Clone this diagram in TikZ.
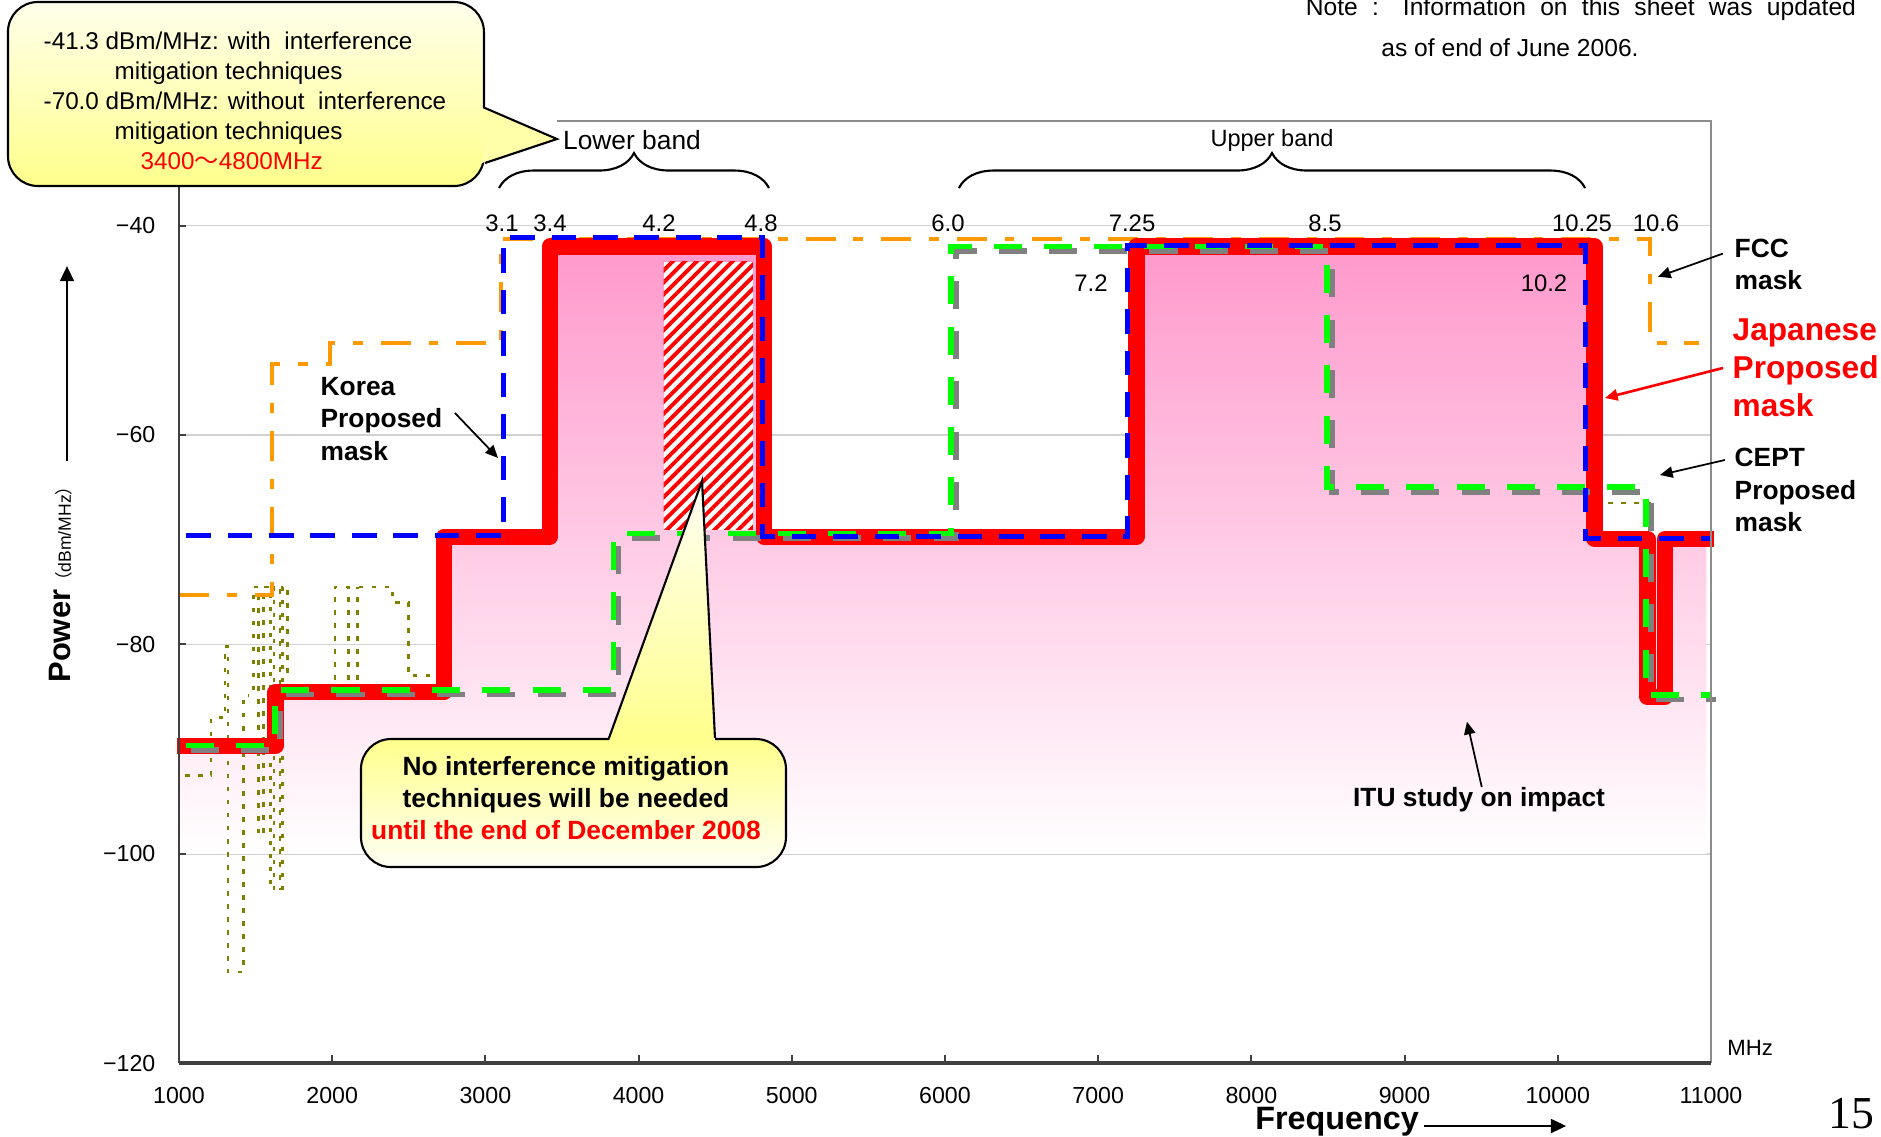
\documentclass[tikz,border=0pt]{standalone}
\usepackage{fontspec}
\setmainfont{Liberation Sans}
\newfontfamily\pagefont{Liberation Serif}
\newfontfamily\cjkfont{Noto Sans CJK JP}
\usetikzlibrary{arrows.meta,shapes,decorations.pathreplacing,patterns.meta}

\definecolor{fccorange}{RGB}{255,153,0}
\definecolor{ceptgreen}{RGB}{0,255,0}
\definecolor{koreablue}{RGB}{0,0,255}
\definecolor{dotolive}{RGB}{128,128,0}
\definecolor{itupink}{RGB}{255,153,204}
\definecolor{calloutyellow}{RGB}{255,255,140}

\tikzset{
  jpmask/.style={draw=red,line width=4.6pt,line join=round},
  koreamask/.style={draw=koreablue,line width=1.4pt,dash pattern=on 7pt off 4.8pt},
  ceptmask/.style={line width=1.6pt,dash pattern=on 8pt off 6.3pt},
  fccmask/.style={draw=fccorange,line width=1.15pt,dash pattern=on 8.5pt off 5.1pt on 2.8pt off 5.1pt},
  othermask/.style={draw=dotolive,line width=0.75pt,dash pattern=on 1.3pt off 2.4pt},
  gridline/.style={draw=black!18,line width=0.4pt},
  axisline/.style={draw=black!75,line width=0.6pt},
  frameline/.style={draw=black!45,line width=0.6pt},
  ticklabel/.style={font=\fontsize{6.6}{8}\selectfont,inner sep=0pt},
  freqlabel/.style={font=\fontsize{6.8}{8}\selectfont,inner sep=0pt},
  masklabel/.style={font=\bfseries\fontsize{7.5}{9.2}\selectfont,align=left,inner sep=0pt},
  callarrow/.style={-{Triangle[length=3.6pt,width=3.2pt]},line width=0.5pt},
  axisarrow/.style={-{Triangle[length=4.3pt,width=4pt]},line width=0.5pt},
  bandbrace/.style={decorate,decoration={brace,amplitude=0.35cm},line width=0.6pt},
  calloutbox/.style={draw,line width=0.6pt,rounded corners=0.3cm},
}

\begin{document}
\begin{tikzpicture}[x=1.532cm,y=1.047mm]
\useasboundingbox (-0.1684,-127.049) rectangle (12.1097,-18.453);

\foreach \y in {-40,-60,-80,-100}
  \draw[gridline] (1,\y) -- (11,\y);

\shade[top color=itupink,bottom color=white] (1,-89.67) -- (1.63,-89.67) -- (1.63,-84.58) -- (2.73,-84.58) -- (2.73,-69.71) -- (3.42,-69.71) -- (3.42,-42) -- (4.82,-42) -- (4.82,-69.71) -- (7.25,-69.71) -- (7.25,-42) -- (10.24,-42) -- (10.24,-69.9) -- (10.97,-69.9) -- (10.97,-100) -- (1,-100) -- cycle;

\fill[white] (4.163,-43.45) rectangle (4.746,-69.07);
\fill[pattern={Lines[angle=45,distance=2.4pt,line width=1.1pt]},pattern color=red] (4.163,-43.45) rectangle (4.746,-69.07);

\draw[othermask] (1.04,-92.5) -- (1.21,-92.5) -- (1.21,-87) -- (1.30,-87) -- (1.30,-80.2) -- (1.32,-80.2) -- (1.32,-111.3) -- (1.42,-111.3) -- (1.42,-84.9) -- (1.45,-84.9);
\draw[othermask] (1.485,-84.4) -- (1.485,-74.5) -- (1.518,-74.5) -- (1.518,-98);
\draw[othermask] (1.55,-98) -- (1.55,-74.5) -- (1.598,-74.5) -- (1.598,-103.5);
\draw[othermask] (1.62,-103.5) -- (1.62,-74.5) -- (1.659,-74.5) -- (1.659,-103.5);
\draw[othermask] (1.675,-103.5) -- (1.675,-74.5) -- (1.707,-74.5) -- (1.707,-83.4);
\draw[othermask] (2.018,-83.4) -- (2.018,-74.5) -- (2.395,-74.5) -- (2.395,-76) -- (2.497,-76) -- (2.497,-83) -- (2.66,-83);
\draw[othermask] (2.105,-83.4) -- (2.105,-74.5);
\draw[othermask] (2.164,-83.4) -- (2.164,-74.5);
\draw[othermask] (10.33,-66.5) -- (10.6,-66.5) -- (10.6,-70);

\draw[fccmask] (1,-75.28) -- (1.605,-75.28) -- (1.605,-53.25) -- (1.986,-53.25) -- (1.986,-51.25) -- (3.099,-51.25) -- (3.099,-41.31) -- (10.6,-41.31) -- (10.6,-51.2) -- (10.92,-51.2);

\draw[jpmask] (0.985,-89.67) -- (1.63,-89.67) -- (1.63,-84.58) -- (2.73,-84.58) -- (2.73,-69.71) -- (3.42,-69.71) -- (3.42,-42) -- (4.82,-42) -- (4.82,-69.71) -- (7.25,-69.71) -- (7.25,-42) -- (10.24,-42) -- (10.24,-69.9) -- (10.585,-69.9) -- (10.585,-85) -- (10.7,-85) -- (10.7,-69.9) -- (11.02,-69.9);

\foreach \c/\s in {black!50/{(0.05cm,-0.045cm)},ceptgreen/{(0,0)}}
  \draw[ceptmask,draw=\c,shift=\s] (1.046,-89.67) -- (1.627,-89.67) -- (1.627,-84.36) -- (3.835,-84.36) -- (3.835,-69.39) -- (6.039,-69.39) -- (6.039,-42) -- (8.495,-42) -- (8.495,-64.99) -- (10.576,-64.99) -- (10.576,-84.83) -- (11,-84.83);

\draw[koreamask] (1.046,-69.62) -- (3.12,-69.62) -- (3.12,-41.15) -- (4.81,-41.15) -- (4.81,-69.71) -- (7.193,-69.71) -- (7.193,-41.92) -- (10.182,-41.92) -- (10.182,-69.9) -- (11,-69.9);

\draw[frameline] (3.47,-30) -- (11,-30) -- (11,-120);
\draw[axisline] (1,-30) -- (1,-120);
\draw[draw=black!75,line width=1.1pt] (1,-120) -- (11,-120);
\foreach \y in {-40,-60,-80,-100}
  \draw[axisline] (1,\y) -- (1.045,\y);
\foreach \x in {2,...,10}
  \draw[axisline] (\x,-120) -- (\x,-119.2);

\foreach \y/\t in {-40/40,-60/60,-80/80,-100/100,-120/120}
  \node[ticklabel,anchor=east] (ylab\t) at (0.85,\y) {\symbol{"2212}\t};
\foreach \x/\t in {1/1000,2/2000,3/3000,4/4000,5/5000,6/6000,7/7000,8/8000,9/9000,10/10000,11/11000}
  \node[ticklabel] (xlab\t) at (\x,-123.13) {\t};
\node[font=\fontsize{6.3}{7}\selectfont,inner sep=0pt] (mhzUnit) at (11.255,-118.55) {MHz};

\node[font=\bfseries\fontsize{9.2}{10}\selectfont,inner sep=0pt] (freqLabel) at (8.559,-125.62) {Frequency};
\coordinate (freqArrowEnd) at (10.054,-126.0);
\draw[axisarrow] (freqLabel.east |- freqArrowEnd) ++(0.03,0) -- (freqArrowEnd);

\node[rotate=90,anchor=base,inner sep=0pt] (powerLabel) at (0.295,-73.85) {\bfseries\fontsize{8.8}{10}\selectfont Power{\mdseries\fontsize{5}{6}\selectfont{\cjkfont （}dBm/MHz{\cjkfont ）}}};
\coordinate (powerArrowTip) at (0.2689,-43.87);
\draw[axisarrow] (powerLabel.east -| powerArrowTip) ++(0,1.5) -- (powerArrowTip);

\node[font=\pagefont\fontsize{13}{15}\selectfont,anchor=base west,inner sep=0pt] (pageNum) at (11.764,-126.19) {15};

\node[font=\fontsize{7}{8}\selectfont,inner sep=0pt] (updateNote) at (10.151,-19.31) {\makebox[5.5cm][s]{Note : Information on this sheet was updated}};
\node[font=\fontsize{7}{8}\selectfont,inner sep=0pt] (updateDate) at (9.688,-23.04) {as of end of June 2006.};

\draw[bandbrace] (3.089,-36.41) -- (4.851,-36.41);
\draw[bandbrace] (6.091,-36.41) -- (10.178,-36.41);
\node[font=\fontsize{7.5}{9}\selectfont,inner sep=0pt] (lowerBand) at (3.957,-31.82) {Lower band};
\node[font=\fontsize{6.7}{8}\selectfont,inner sep=0pt] (upperBand) at (8.135,-31.82) {Upper band};

\node[freqlabel] (f31) at (3.108,-39.75) {3.1};
\node[freqlabel] (f34) at (3.422,-39.75) {3.4};
\node[freqlabel] (f42) at (4.133,-39.75) {4.2};
\node[freqlabel] (f48) at (4.799,-39.75) {4.8};
\node[freqlabel] (f60) at (6.020,-39.75) {6.0};
\node[freqlabel] (f725) at (7.221,-39.75) {7.25};
\node[freqlabel] (f85) at (8.480,-39.75) {8.5};
\node[freqlabel] (f1025) at (10.158,-39.75) {10.25};
\node[freqlabel] (f106) at (10.641,-39.75) {10.6};
\node[freqlabel] (f72) at (6.953,-45.48) {7.2};
\node[freqlabel] (f102) at (9.910,-45.48) {10.2};

\node[masklabel,anchor=west] (koreaText) at (1.920,-58.47) {Korea\\Proposed\\mask};
\coordinate (koreaTip) at (3.082,-62.19);
\draw[callarrow] ([xshift=0.12cm,yshift=0.06cm]koreaText.east) -- (koreaTip);

\node[masklabel,anchor=west] (fccText) at (11.150,-43.72) {FCC\\mask};
\coordinate (fccTip) at (10.654,-44.89);
\draw[callarrow] ([xshift=-0.11cm,yshift=0.11cm]fccText.west) -- (fccTip);

\node[masklabel,anchor=west,text=red,font=\bfseries\fontsize{9}{10.8}\selectfont] (japanText) at (11.137,-53.60) {Japanese\\Proposed\\mask};
\coordinate (japanTip) at (10.308,-56.47);
\draw[callarrow,draw=red,fill=red,line width=0.75pt] ([xshift=-0.09cm]japanText.west) -- (japanTip);

\node[masklabel,anchor=west] (ceptText) at (11.150,-65.25) {CEPT\\Proposed\\mask};
\coordinate (ceptTip) at (10.667,-63.82);
\draw[callarrow] ([xshift=-0.09cm,yshift=0.3cm]ceptText.west) -- (ceptTip);

\node[masklabel] (ituText) at (9.486,-94.86) {ITU study on impact};
\coordinate (ituTip) at (9.407,-87.38);
\draw[callarrow] ([xshift=0.027cm]ituText.north) -- (ituTip);

\node[calloutbox,top color=yellow!8,bottom color=calloutyellow,minimum width=4.76cm,minimum height=1.84cm] (bandNoteBox) at (1.437,-27.43) {};
\coordinate (bandNoteTip) at (3.467,-31.73);
\fill[calloutyellow!75!white] ([xshift=-0.03cm,yshift=-0.14cm]bandNoteBox.east) -- (bandNoteTip) -- ([xshift=-0.03cm,yshift=-0.69cm]bandNoteBox.east) -- cycle;
\draw[line width=0.6pt] ([yshift=-0.14cm]bandNoteBox.east) -- (bandNoteTip) -- ([yshift=-0.69cm]bandNoteBox.east);
\node[anchor=west,align=left,inner sep=0pt,font=\fontsize{6.9}{8.5}\selectfont] (bandNoteText) at (0.1123,-28.10) {-41.3 dBm/MHz: with\ \ interference\\\hspace*{0.71cm}mitigation techniques\\-70.0 dBm/MHz: without\ \ interference\\\hspace*{0.71cm}mitigation techniques\\\hspace*{0.97cm}\textcolor{red}{3400{\cjkfont ～}4800MHz}};

\node[calloutbox,top color=calloutyellow,bottom color=yellow!4,minimum width=4.25cm,minimum height=1.28cm] (mitigationBox) at (3.575,-95.15) {};
\coordinate (mitigationTip) at (4.414,-64.39);
\shade[top color=yellow!4,bottom color=calloutyellow] ([xshift=0.355cm,yshift=-0.03cm]mitigationBox.north) -- (mitigationTip) -- ([xshift=1.415cm,yshift=-0.03cm]mitigationBox.north) -- cycle;
\draw[line width=0.6pt] ([xshift=0.355cm]mitigationBox.north) -- (mitigationTip) -- ([xshift=1.415cm]mitigationBox.north);
\node[align=center,inner sep=0pt,font=\bfseries\fontsize{7.5}{9.1}\selectfont] (mitigationText) at (3.526,-94.67) {No interference mitigation\\techniques will be needed\\\textcolor{red}{until the end of December 2008}};
\end{tikzpicture}
\end{document}
